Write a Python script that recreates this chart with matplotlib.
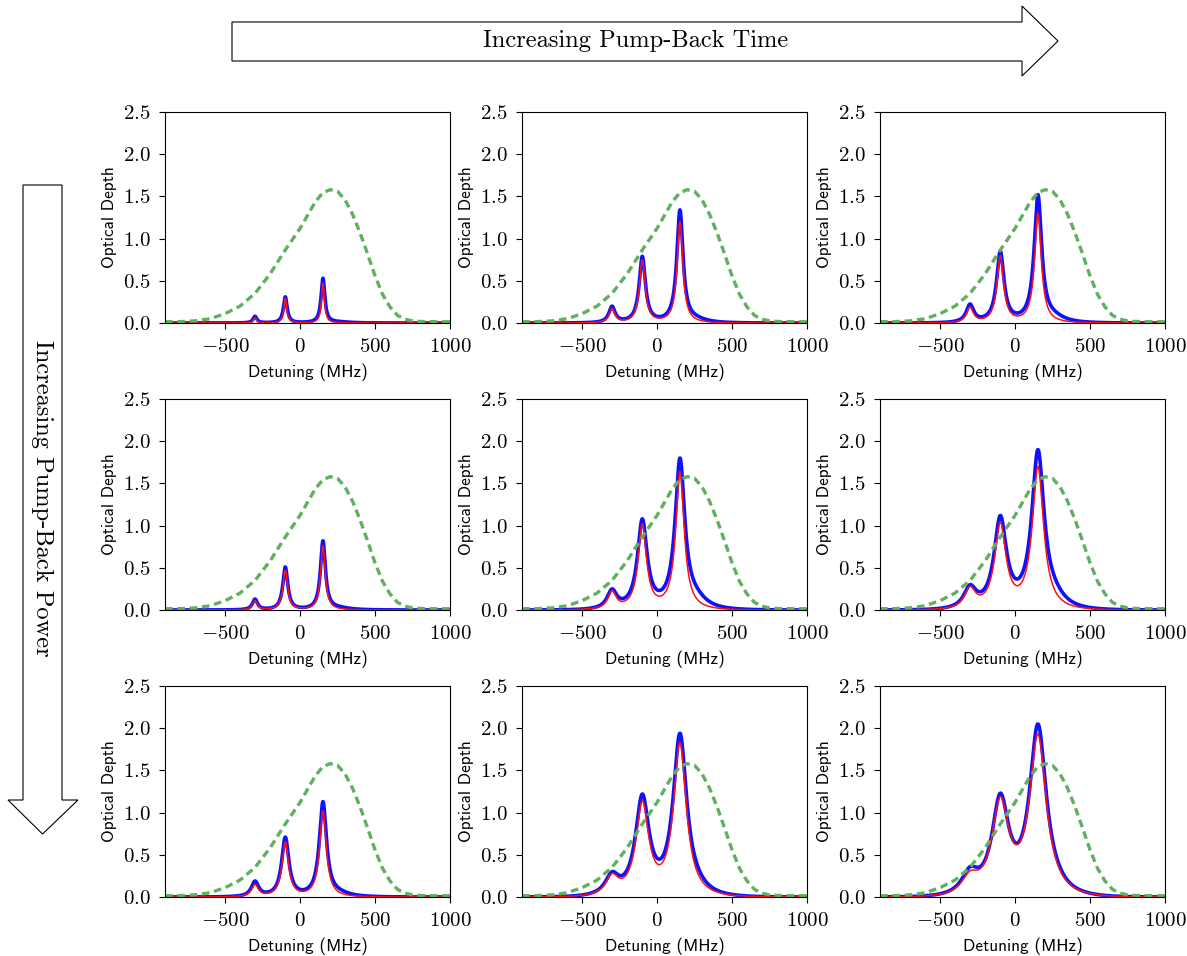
import numpy as np
import matplotlib
matplotlib.use("Agg")
import matplotlib.pyplot as plt
from matplotlib.patches import Polygon

plt.rcParams['font.family'] = 'cmr10'
plt.rcParams['mathtext.fontset'] = 'cm'
plt.rcParams['axes.formatter.use_mathtext'] = True

# inhomogeneous (unpumped) profile
green_x = [-900, -800, -700, -600, -500, -400, -300, -200, -100, 0, 100, 150,
           200, 250, 300, 350, 400, 450, 500, 550, 600, 650, 700, 750, 800, 900, 1000]
green_y = [0.015, 0.016, 0.025, 0.05, 0.11, 0.2, 0.35, 0.58, 0.86, 1.12, 1.43, 1.54,
           1.58, 1.56, 1.46, 1.29, 1.07, 0.82, 0.56, 0.34, 0.19, 0.09, 0.045, 0.025,
           0.018, 0.015, 0.015]

# peak centres (MHz)
centers = [-300, -98, 153]

# peak heights [row][col] -> (small, middle, big); rows = power, cols = time
blue_heights = [
    [[0.08, 0.31, 0.53], [0.20, 0.79, 1.34], [0.225, 0.85, 1.52]],
    [[0.13, 0.51, 0.82], [0.25, 1.08, 1.80], [0.30, 1.12, 1.90]],
    [[0.19, 0.71, 1.13], [0.30, 1.22, 1.94], [0.36, 1.23, 2.05]],
]
red_heights = [
    [[0.06, 0.29, 0.47], [0.17, 0.75, 1.20], [0.19, 0.80, 1.30]],
    [[0.11, 0.47, 0.76], [0.23, 1.02, 1.64], [0.28, 1.04, 1.70]],
    [[0.15, 0.65, 1.02], [0.28, 1.14, 1.83], [0.31, 1.19, 1.93]],
]
# half widths (MHz)
blue_hwhm = [[15, 25, 30], [20, 39, 50], [29, 55, 68]]
red_hwhm = [[12, 23, 27], [19, 34, 46], [27, 52, 69]]
# extra broad wing on the blue data, right of the big peak
blue_wing = [[0.01, 0.03, 0.05], [0.02, 0.09, 0.09], [0.03, 0.04, 0.03]]

W, H = 1187, 956
fig = plt.figure(figsize=(W / 100, H / 100), dpi=100)

col_left = [165, 522, 880]
row_top = [112, 399, 686]
ax_w, ax_h = 285, 211

det = np.linspace(-900, 1000, 3801)


def line(x, c, g):
    # Lorentzian with damped far wings
    return np.exp(-((x - c) / 450.0) ** 2) / (1.0 + ((x - c) / g) ** 2)


def spectrum(heights, g, wing=0.0):
    c = np.array(centers, dtype=float)
    base = wing * line(c, 260, 90)
    M = np.array([[line(ci, cj, g) for cj in c] for ci in c])
    amps = np.linalg.solve(M, np.array(heights) - base)
    y = wing * line(det, 260, 90)
    for a, cj in zip(amps, c):
        y = y + a * line(det, cj, g)
    return y


for r in range(3):
    for k in range(3):
        ax = fig.add_axes([col_left[k] / W, 1 - (row_top[r] + ax_h) / H, ax_w / W, ax_h / H])
        ax.plot(det, spectrum(blue_heights[r][k], blue_hwhm[r][k], blue_wing[r][k]),
                color='#1010ff', lw=2.6)
        ax.plot(det, spectrum(red_heights[r][k], red_hwhm[r][k]), color='#ff1010', lw=1.1)
        ax.plot(green_x, green_y, color='#5fb05f', lw=2.4, dashes=(2.3, 1.4))
        ax.set_xlim(-900, 1000)
        ax.set_ylim(0, 2.5)
        ax.set_xticks([-500, 0, 500, 1000])
        ax.set_yticks([0, 0.5, 1.0, 1.5, 2.0, 2.5])
        ax.tick_params(labelsize=15, direction='out', length=4, pad=6.5)
        ax.set_xlabel('Detuning (MHz)', family='cmss10', fontsize=12.4, labelpad=6)
        ax.set_ylabel('Optical Depth', family='cmss10', fontsize=12.4)


def fpx(pts):
    return [(x / W, 1 - y / H) for x, y in pts]


top_arrow = fpx([(232, 22), (1022, 22), (1022, 6), (1058, 41), (1022, 76),
                 (1022, 61), (232, 61)])
left_arrow = fpx([(23, 185), (62, 185), (62, 800), (78, 800), (42.5, 834),
                  (8, 800), (23, 800)])
for pts in (top_arrow, left_arrow):
    fig.patches.append(Polygon(pts, closed=True, transform=fig.transFigure,
                               facecolor='white', edgecolor='black', lw=0.8))

fig.text(636 / W, 1 - 41 / H, 'Increasing Pump-Back Time', ha='center', va='center',
         fontsize=17.6)
fig.text(42.5 / W, 1 - 498 / H, 'Increasing Pump-Back Power', ha='center', va='center',
         rotation=-90, fontsize=17.6)

fig.savefig('out.png', dpi=100)
